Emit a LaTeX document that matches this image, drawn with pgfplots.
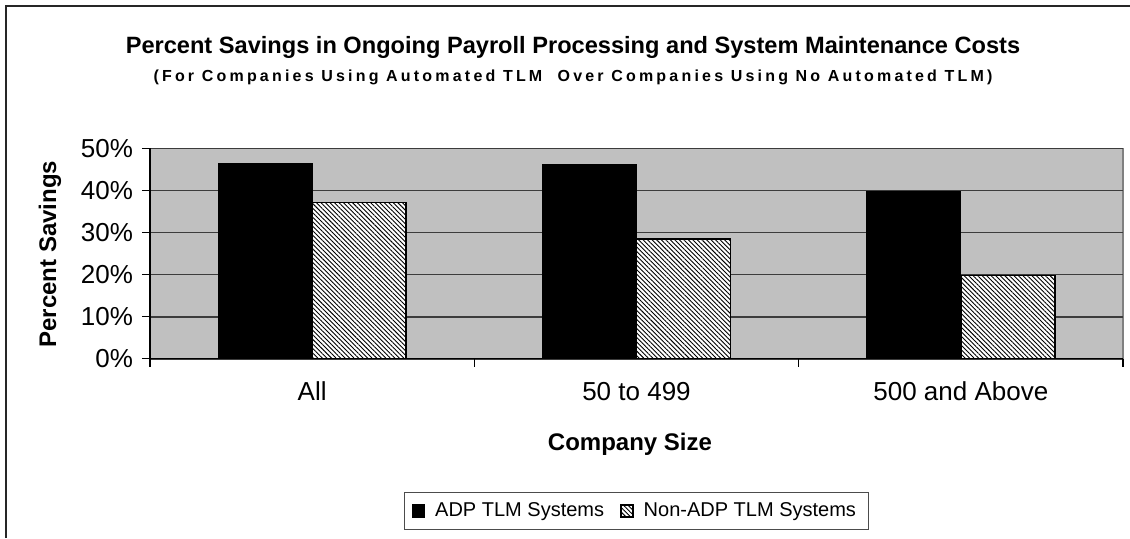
\documentclass[border=0pt]{standalone}
\usepackage{fontspec}
\setmainfont{Liberation Sans}
\newfontfamily\spacedfont[LetterSpace=20]{Liberation Sans}
\usepackage{pgfplots}
\pgfplotsset{compat=1.18}
\usetikzlibrary{patterns.meta}
\definecolor{plotbg}{RGB}{192,192,192}
\definecolor{gridc}{RGB}{60,60,60}
\definecolor{edgec}{RGB}{128,128,128}
\begin{document}
\begin{tikzpicture}
\useasboundingbox (0pt,0pt) rectangle (565pt,269pt);
\draw[line width=1pt, black!85] (3pt,0pt) -- (3pt,266pt) -- (565pt,266pt);
\node[anchor=base, font=\bfseries\fontsize{11.8}{13}\selectfont] at (286.5pt,242.5pt)
  {Percent Savings in Ongoing Payroll Processing and System Maintenance Costs};
\node[anchor=base, font=\spacedfont\bfseries\fontsize{8}{9}\selectfont] at (286.5pt,228.2pt)
  {(For Companies Using Automated TLM\ \ Over Companies Using No Automated TLM)};
\node[rotate=90, anchor=center, font=\bfseries\fontsize{12}{14}\selectfont] at (25pt,142pt) {Percent Savings};
\node[anchor=base, font=\bfseries\fontsize{12}{14}\selectfont] at (315pt,44pt) {Company Size};
\begin{axis}[
  at={(75pt,89.6pt)}, anchor=south west,
  scale only axis, width=486.5pt, height=105.25pt,
  ybar=0pt, bar width=47pt,
  xmin=-0.5, xmax=2.5, ymin=0, ymax=50,
  axis background/.style={fill=plotbg, draw=edgec, line width=0.6pt},
  axis x line*=bottom, axis y line*=left,
  axis line style={black, line width=0.6pt},
  ytick={0,10,20,30,40,50},
  yticklabels={0\%,10\%,20\%,30\%,40\%,50\%},
  ymajorgrids, major grid style={gridc, line width=0.8pt},
  xtick={-0.5,0.5,1.5,2.5}, xticklabels={},
  extra x ticks={0,1,2},
  extra x tick labels={All,50 to 499,500 and Above},
  extra x tick style={major tick length=0pt, grid=none, xticklabel style={yshift=-8pt}},
  tick align=outside, major tick length=4pt,
  tick style={black, line width=0.6pt},
  ticklabel style={font=\fontsize{13}{15}\selectfont},
  yticklabel style={xshift=-1pt},
  legend style={at={(0.4995,-0.723)}, anchor=center, legend columns=2, draw=black!70,
    font=\fontsize{10}{12}\selectfont,
    /tikz/every even column/.append style={column sep=6pt},
    /tikz/every odd column/.append style={column sep=3pt},
    inner xsep=4pt, inner ysep=3pt},
  legend image code/.code={\draw[#1] (0pt,-3pt) rectangle (6pt,3pt);},
]
\addplot[fill=black, draw=black, line width=0.6pt] coordinates {(0,46.3) (1,46.2) (2,39.7)};
\addplot[fill=white, draw=black, line width=0.8pt,
  postaction={pattern={Lines[angle=-45,distance=1.6pt,line width=0.45pt]}}]
  coordinates {(0,37.1) (1,28.5) (2,19.8)};
\legend{ADP TLM Systems, Non-ADP TLM Systems}
\end{axis}
\end{tikzpicture}
\end{document}
